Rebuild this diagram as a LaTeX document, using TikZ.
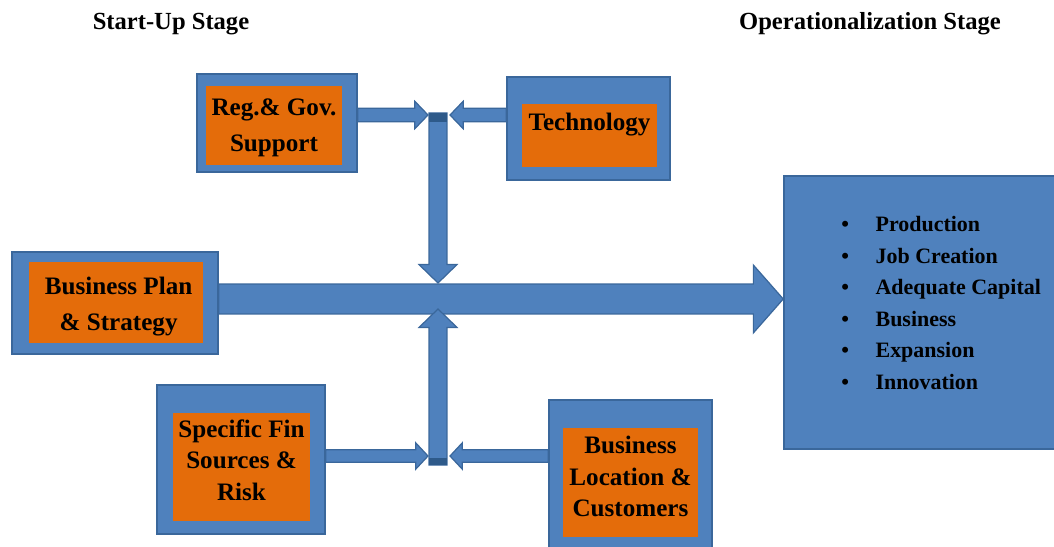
\documentclass[tikz,border=0pt]{standalone}
\usepackage{fontspec}
\setmainfont{Liberation Serif}
\usetikzlibrary{calc}

\definecolor{boxblue}{HTML}{4F81BD}
\definecolor{edgeblue}{HTML}{3A679B}
\definecolor{capblue}{HTML}{2E5A8A}
\definecolor{boxorange}{HTML}{E46C0A}

\newcommand{\outitem}[1]{\makebox[19.5pt][l]{\textbullet}#1}

\begin{document}
\begin{tikzpicture}[
    x=0.02cm, y=-0.02cm,
    outerbox/.style={rectangle, draw=edgeblue, fill=boxblue, line width=0.9pt},
    innerbox/.style={rectangle, fill=boxorange, inner sep=0pt},
    boxtext/.style={align=center, inner sep=0pt, font=\fontsize{14.3}{18}\selectfont\bfseries},
    stagetitle/.style={font=\fontsize{14}{17}\selectfont\bfseries},
    % block arrow: shaft half width, head half width, head length
    flow/.style n args={3}{draw=edgeblue, fill=boxblue, line width=0.7pt, line join=miter,
      to path={let \p1=(\tikztostart), \p2=(\tikztotarget),
        \n1={veclen(\x2-\x1,\y2-\y1)}, \n2={(\x2-\x1)/\n1}, \n3={(\y2-\y1)/\n1},
        \n4={\n1-#3} in
        ({\x1-#1*\n3},{\y1+#1*\n2})
        -- ({\x1+\n4*\n2-#1*\n3},{\y1+\n4*\n3+#1*\n2})
        -- ({\x1+\n4*\n2-#2*\n3},{\y1+\n4*\n3+#2*\n2})
        -- (\p2)
        -- ({\x1+\n4*\n2+#2*\n3},{\y1+\n4*\n3-#2*\n2})
        -- ({\x1+\n4*\n2+#1*\n3},{\y1+\n4*\n3-#1*\n2})
        -- ({\x1+#1*\n3},{\y1-#1*\n2}) -- cycle}}
]
    \useasboundingbox (0,0) rectangle (1054,547);

    % stage headings
    \node[stagetitle] (startup) at (171,24) {Start-Up Stage};
    \node[stagetitle] (operation) at (870,24) {Operationalization Stage};

    % start-up factors
    \node[outerbox, minimum width=3.2cm, minimum height=1.96cm] (reg) at (277,123) {};
    \node[innerbox, minimum width=2.72cm, minimum height=1.58cm,
        label={[boxtext, yshift=-1.4pt]center:Reg.\& Gov.\\[2.4pt]Support}] (regin) at (274,125.5) {};

    \node[outerbox, minimum width=3.26cm, minimum height=2.06cm] (tech) at (588.5,128.5) {};
    \node[innerbox, minimum width=2.7cm, minimum height=1.26cm,
        label={[boxtext, yshift=6.2pt]center:Technology}] (techin) at (589.5,135.5) {};

    \node[outerbox, minimum width=4.12cm, minimum height=2.04cm] (bplan) at (115,303) {};
    \node[innerbox, minimum width=3.48cm, minimum height=1.62cm,
        label={[boxtext, xshift=1.5pt, yshift=-2.3pt]center:Business Plan\\[3pt]\& Strategy}] (bplanin) at (116,302.5) {};

    \node[outerbox, minimum width=3.36cm, minimum height=2.98cm] (fin) at (241,459.5) {};
    \node[innerbox, minimum width=2.74cm, minimum height=2.16cm,
        label={[boxtext, yshift=4pt]center:Specific Fin\\Sources \&\\Risk}] (finin) at (241.5,467) {};

    \node[outerbox, minimum width=3.26cm, minimum height=3.2cm] (loc) at (630.5,480) {};
    \node[innerbox, minimum width=2.7cm, minimum height=2.18cm,
        label={[boxtext, yshift=3.4pt]center:Business\\Location \&\\Customers}] (locin) at (630.5,482.5) {};

    % outcome
    \node[outerbox, minimum width=5.72cm, minimum height=5.46cm] (outcome) at (927,312.5) {};
    \node[anchor=west, align=left, inner sep=0pt, font=\fontsize{12.5}{18}\selectfont\bfseries] (gains) at (841,303)
        {\outitem{Production}\\\outitem{Job Creation}\\\outitem{Adequate Capital}\\\outitem{Business}\\\outitem{Expansion}\\\outitem{Innovation}};

    % points on the central bar
    \coordinate (axis) at (438,299);
    \coordinate (jtop) at (438,113);
    \coordinate (jbot) at (438,465);
    \coordinate (hubN) at (438,283);
    \coordinate (hubS) at (438,309);
    \coordinate (inNW) at (428,115);
    \coordinate (inNE) at (450,115);
    \coordinate (inSW) at (428,456);
    \coordinate (inSE) at (450,456);

    % main flow
    \draw[flow={8.5pt}{19.3pt}{17pt}] (bplan.east |- axis) to (outcome.west |- axis);

    % central bar
    \draw[flow={5.1pt}{10.8pt}{10.5pt}] (jtop) to (hubN);
    \draw[flow={5.1pt}{10.8pt}{10.5pt}] (jbot) to (hubS);
    \fill[capblue] ($(jtop)+(-9,0)$) rectangle ($(jtop)+(9,9)$);
    \fill[capblue] ($(jbot)+(-9,-7)$) rectangle ($(jbot)+(9,0)$);

    % feeders
    \draw[flow={3.8pt}{7.8pt}{7.5pt}] (reg.east |- inNW) to (inNW);
    \draw[flow={3.8pt}{7.8pt}{7.5pt}] (tech.west |- inNE) to (inNE);
    \draw[flow={3.5pt}{7.5pt}{7pt}] (fin.east |- inSW) to (inSW);
    \draw[flow={3.5pt}{7.5pt}{7pt}] (loc.west |- inSE) to (inSE);
\end{tikzpicture}
\end{document}
